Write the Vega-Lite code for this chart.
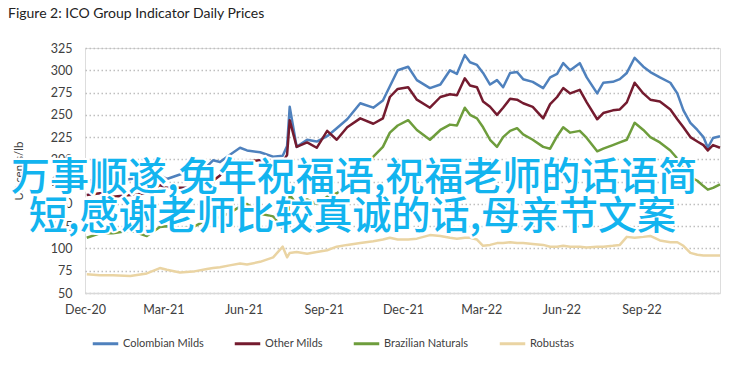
{
  "$schema": "https://vega.github.io/schema/vega-lite/v6.json",
  "width": 635,
  "height": 245,
  "autosize": {"type": "none"},
  "padding": {"left": 85, "top": 48, "right": 35, "bottom": 89},
  "background": "white",
  "title": {"text": "Figure 2: ICO Group Indicator Daily Prices", "anchor": "start", "frame": "group", "dx": -77, "offset": 21, "fontSize": 14, "fontWeight": "normal", "color": "#222222", "font": "Lato"},
  "datasets": {
    "overlay": [
      {"date": "2021-10-06", "price": 179, "label": "万事顺遂,兔年祝福语,祝福老师的话语简"},
      {"date": "2021-10-04", "price": 135, "label": "短,感谢老师比较真诚的话,母亲节文案"}
    ],
    "prices": [
{"date":"2020-12-03","series":"Colombian Milds","price":176},{"date":"2020-12-03","series":"Other Milds","price":160},{"date":"2020-12-03","series":"Brazilian Naturals","price":112},{"date":"2020-12-03","series":"Robustas","price":71},
{"date":"2020-12-18","series":"Colombian Milds","price":178},{"date":"2020-12-18","series":"Other Milds","price":162},{"date":"2020-12-18","series":"Brazilian Naturals","price":117},{"date":"2020-12-18","series":"Robustas","price":70},
{"date":"2021-01-02","series":"Colombian Milds","price":175},{"date":"2021-01-02","series":"Other Milds","price":158},{"date":"2021-01-02","series":"Brazilian Naturals","price":117},{"date":"2021-01-02","series":"Robustas","price":70},
{"date":"2021-01-22","series":"Colombian Milds","price":178},{"date":"2021-01-22","series":"Other Milds","price":160},{"date":"2021-01-22","series":"Brazilian Naturals","price":120},{"date":"2021-01-22","series":"Robustas","price":69},
{"date":"2021-02-10","series":"Colombian Milds","price":180},{"date":"2021-02-10","series":"Other Milds","price":162},{"date":"2021-02-10","series":"Brazilian Naturals","price":114},{"date":"2021-02-10","series":"Robustas","price":72},
{"date":"2021-02-25","series":"Colombian Milds","price":182},{"date":"2021-02-25","series":"Other Milds","price":171},{"date":"2021-02-25","series":"Brazilian Naturals","price":124},{"date":"2021-02-25","series":"Robustas","price":78},
{"date":"2021-03-05","series":"Colombian Milds","price":178},{"date":"2021-03-05","series":"Other Milds","price":168},{"date":"2021-03-05","series":"Brazilian Naturals","price":125},{"date":"2021-03-05","series":"Robustas","price":76},
{"date":"2021-03-20","series":"Colombian Milds","price":183},{"date":"2021-03-20","series":"Other Milds","price":168},{"date":"2021-03-20","series":"Brazilian Naturals","price":122},{"date":"2021-03-20","series":"Robustas","price":73},
{"date":"2021-04-04","series":"Colombian Milds","price":188},{"date":"2021-04-04","series":"Other Milds","price":168},{"date":"2021-04-04","series":"Brazilian Naturals","price":124},{"date":"2021-04-04","series":"Robustas","price":74},
{"date":"2021-04-20","series":"Colombian Milds","price":192},{"date":"2021-04-20","series":"Other Milds","price":177},{"date":"2021-04-20","series":"Brazilian Naturals","price":132},{"date":"2021-04-20","series":"Robustas","price":77},
{"date":"2021-04-27","series":"Colombian Milds","price":199},{"date":"2021-04-27","series":"Other Milds","price":176},{"date":"2021-04-27","series":"Brazilian Naturals","price":134},{"date":"2021-04-27","series":"Robustas","price":78},
{"date":"2021-05-05","series":"Colombian Milds","price":197},{"date":"2021-05-05","series":"Other Milds","price":182},{"date":"2021-05-05","series":"Brazilian Naturals","price":135},{"date":"2021-05-05","series":"Robustas","price":79},
{"date":"2021-05-16","series":"Colombian Milds","price":205},{"date":"2021-05-16","series":"Other Milds","price":195},{"date":"2021-05-16","series":"Brazilian Naturals","price":140},{"date":"2021-05-16","series":"Robustas","price":81},
{"date":"2021-05-28","series":"Colombian Milds","price":213},{"date":"2021-05-28","series":"Other Milds","price":197},{"date":"2021-05-28","series":"Brazilian Naturals","price":147},{"date":"2021-05-28","series":"Robustas","price":83},
{"date":"2021-06-05","series":"Colombian Milds","price":210},{"date":"2021-06-05","series":"Other Milds","price":198},{"date":"2021-06-05","series":"Brazilian Naturals","price":150},{"date":"2021-06-05","series":"Robustas","price":82},
{"date":"2021-06-20","series":"Colombian Milds","price":208},{"date":"2021-06-20","series":"Other Milds","price":199},{"date":"2021-06-20","series":"Brazilian Naturals","price":139},{"date":"2021-06-20","series":"Robustas","price":85},
{"date":"2021-07-05","series":"Colombian Milds","price":203},{"date":"2021-07-05","series":"Other Milds","price":196},{"date":"2021-07-05","series":"Brazilian Naturals","price":136},{"date":"2021-07-05","series":"Robustas","price":90},
{"date":"2021-07-16","series":"Colombian Milds","price":204},{"date":"2021-07-16","series":"Other Milds","price":197},{"date":"2021-07-16","series":"Brazilian Naturals","price":122},{"date":"2021-07-16","series":"Robustas","price":102},
{"date":"2021-07-21","series":"Colombian Milds","price":215},{"date":"2021-07-21","series":"Other Milds","price":205},{"date":"2021-07-21","series":"Brazilian Naturals","price":118},{"date":"2021-07-21","series":"Robustas","price":90},
{"date":"2021-07-24","series":"Colombian Milds","price":259},{"date":"2021-07-24","series":"Other Milds","price":244},{"date":"2021-07-24","series":"Brazilian Naturals","price":160},{"date":"2021-07-24","series":"Robustas","price":95},
{"date":"2021-08-01","series":"Colombian Milds","price":214},{"date":"2021-08-01","series":"Other Milds","price":214},{"date":"2021-08-01","series":"Brazilian Naturals","price":150},{"date":"2021-08-01","series":"Robustas","price":96},
{"date":"2021-08-13","series":"Colombian Milds","price":222},{"date":"2021-08-13","series":"Other Milds","price":219},{"date":"2021-08-13","series":"Brazilian Naturals","price":155},{"date":"2021-08-13","series":"Robustas","price":94},
{"date":"2021-08-24","series":"Colombian Milds","price":220},{"date":"2021-08-24","series":"Other Milds","price":213},{"date":"2021-08-24","series":"Brazilian Naturals","price":150},{"date":"2021-08-24","series":"Robustas","price":96},
{"date":"2021-09-05","series":"Colombian Milds","price":226},{"date":"2021-09-05","series":"Other Milds","price":232},{"date":"2021-09-05","series":"Brazilian Naturals","price":158},{"date":"2021-09-05","series":"Robustas","price":98},
{"date":"2021-09-16","series":"Colombian Milds","price":235},{"date":"2021-09-16","series":"Other Milds","price":222},{"date":"2021-09-16","series":"Brazilian Naturals","price":162},{"date":"2021-09-16","series":"Robustas","price":102},
{"date":"2021-09-28","series":"Colombian Milds","price":245},{"date":"2021-09-28","series":"Other Milds","price":236},{"date":"2021-09-28","series":"Brazilian Naturals","price":170},{"date":"2021-09-28","series":"Robustas","price":104},
{"date":"2021-10-13","series":"Colombian Milds","price":263},{"date":"2021-10-13","series":"Other Milds","price":246},{"date":"2021-10-13","series":"Brazilian Naturals","price":190},{"date":"2021-10-13","series":"Robustas","price":106},
{"date":"2021-10-28","series":"Colombian Milds","price":258},{"date":"2021-10-28","series":"Other Milds","price":240},{"date":"2021-10-28","series":"Brazilian Naturals","price":203},{"date":"2021-10-28","series":"Robustas","price":108},
{"date":"2021-11-08","series":"Colombian Milds","price":266},{"date":"2021-11-08","series":"Other Milds","price":246},{"date":"2021-11-08","series":"Brazilian Naturals","price":214},{"date":"2021-11-08","series":"Robustas","price":110},
{"date":"2021-11-16","series":"Colombian Milds","price":282},{"date":"2021-11-16","series":"Other Milds","price":270},{"date":"2021-11-16","series":"Brazilian Naturals","price":230},{"date":"2021-11-16","series":"Robustas","price":112},
{"date":"2021-11-25","series":"Colombian Milds","price":300},{"date":"2021-11-25","series":"Other Milds","price":279},{"date":"2021-11-25","series":"Brazilian Naturals","price":238},{"date":"2021-11-25","series":"Robustas","price":110},
{"date":"2021-12-07","series":"Colombian Milds","price":304},{"date":"2021-12-07","series":"Other Milds","price":281},{"date":"2021-12-07","series":"Brazilian Naturals","price":244},{"date":"2021-12-07","series":"Robustas","price":110},
{"date":"2021-12-17","series":"Colombian Milds","price":289},{"date":"2021-12-17","series":"Other Milds","price":267},{"date":"2021-12-17","series":"Brazilian Naturals","price":233},{"date":"2021-12-17","series":"Robustas","price":111},
{"date":"2022-01-01","series":"Colombian Milds","price":280},{"date":"2022-01-01","series":"Other Milds","price":258},{"date":"2022-01-01","series":"Brazilian Naturals","price":222},{"date":"2022-01-01","series":"Robustas","price":115},
{"date":"2022-01-13","series":"Colombian Milds","price":284},{"date":"2022-01-13","series":"Other Milds","price":270},{"date":"2022-01-13","series":"Brazilian Naturals","price":233},{"date":"2022-01-13","series":"Robustas","price":114},
{"date":"2022-01-24","series":"Colombian Milds","price":300},{"date":"2022-01-24","series":"Other Milds","price":273},{"date":"2022-01-24","series":"Brazilian Naturals","price":239},{"date":"2022-01-24","series":"Robustas","price":112},
{"date":"2022-02-01","series":"Colombian Milds","price":296},{"date":"2022-02-01","series":"Other Milds","price":272},{"date":"2022-02-01","series":"Brazilian Naturals","price":238},{"date":"2022-02-01","series":"Robustas","price":111},
{"date":"2022-02-10","series":"Colombian Milds","price":317},{"date":"2022-02-10","series":"Other Milds","price":291},{"date":"2022-02-10","series":"Brazilian Naturals","price":258},{"date":"2022-02-10","series":"Robustas","price":112},
{"date":"2022-02-16","series":"Colombian Milds","price":309},{"date":"2022-02-16","series":"Other Milds","price":283},{"date":"2022-02-16","series":"Brazilian Naturals","price":250},{"date":"2022-02-16","series":"Robustas","price":112},
{"date":"2022-02-24","series":"Colombian Milds","price":306},{"date":"2022-02-24","series":"Other Milds","price":281},{"date":"2022-02-24","series":"Brazilian Naturals","price":246},{"date":"2022-02-24","series":"Robustas","price":110},
{"date":"2022-03-03","series":"Colombian Milds","price":297},{"date":"2022-03-03","series":"Other Milds","price":265},{"date":"2022-03-03","series":"Brazilian Naturals","price":236},{"date":"2022-03-03","series":"Robustas","price":103},
{"date":"2022-03-11","series":"Colombian Milds","price":284},{"date":"2022-03-11","series":"Other Milds","price":259},{"date":"2022-03-11","series":"Brazilian Naturals","price":222},{"date":"2022-03-11","series":"Robustas","price":104},
{"date":"2022-03-19","series":"Colombian Milds","price":289},{"date":"2022-03-19","series":"Other Milds","price":250},{"date":"2022-03-19","series":"Brazilian Naturals","price":214},{"date":"2022-03-19","series":"Robustas","price":106},
{"date":"2022-03-26","series":"Colombian Milds","price":281},{"date":"2022-03-26","series":"Other Milds","price":258},{"date":"2022-03-26","series":"Brazilian Naturals","price":225},{"date":"2022-03-26","series":"Robustas","price":106},
{"date":"2022-04-03","series":"Colombian Milds","price":297},{"date":"2022-04-03","series":"Other Milds","price":268},{"date":"2022-04-03","series":"Brazilian Naturals","price":232},{"date":"2022-04-03","series":"Robustas","price":107},
{"date":"2022-04-11","series":"Colombian Milds","price":298},{"date":"2022-04-11","series":"Other Milds","price":267},{"date":"2022-04-11","series":"Brazilian Naturals","price":235},{"date":"2022-04-11","series":"Robustas","price":106},
{"date":"2022-04-18","series":"Colombian Milds","price":290},{"date":"2022-04-18","series":"Other Milds","price":263},{"date":"2022-04-18","series":"Brazilian Naturals","price":228},{"date":"2022-04-18","series":"Robustas","price":106},
{"date":"2022-04-29","series":"Colombian Milds","price":287},{"date":"2022-04-29","series":"Other Milds","price":259},{"date":"2022-04-29","series":"Brazilian Naturals","price":222},{"date":"2022-04-29","series":"Robustas","price":105},
{"date":"2022-05-11","series":"Colombian Milds","price":280},{"date":"2022-05-11","series":"Other Milds","price":246},{"date":"2022-05-11","series":"Brazilian Naturals","price":214},{"date":"2022-05-11","series":"Robustas","price":104},
{"date":"2022-05-19","series":"Colombian Milds","price":292},{"date":"2022-05-19","series":"Other Milds","price":262},{"date":"2022-05-19","series":"Brazilian Naturals","price":212},{"date":"2022-05-19","series":"Robustas","price":102},
{"date":"2022-05-27","series":"Colombian Milds","price":296},{"date":"2022-05-27","series":"Other Milds","price":270},{"date":"2022-05-27","series":"Brazilian Naturals","price":226},{"date":"2022-05-27","series":"Robustas","price":102},
{"date":"2022-06-03","series":"Colombian Milds","price":308},{"date":"2022-06-03","series":"Other Milds","price":280},{"date":"2022-06-03","series":"Brazilian Naturals","price":236},{"date":"2022-06-03","series":"Robustas","price":103},
{"date":"2022-06-11","series":"Colombian Milds","price":300},{"date":"2022-06-11","series":"Other Milds","price":274},{"date":"2022-06-11","series":"Brazilian Naturals","price":230},{"date":"2022-06-11","series":"Robustas","price":102},
{"date":"2022-06-22","series":"Colombian Milds","price":308},{"date":"2022-06-22","series":"Other Milds","price":278},{"date":"2022-06-22","series":"Brazilian Naturals","price":232},{"date":"2022-06-22","series":"Robustas","price":102},
{"date":"2022-06-30","series":"Colombian Milds","price":292},{"date":"2022-06-30","series":"Other Milds","price":264},{"date":"2022-06-30","series":"Brazilian Naturals","price":224},{"date":"2022-06-30","series":"Robustas","price":101},
{"date":"2022-07-12","series":"Colombian Milds","price":274},{"date":"2022-07-12","series":"Other Milds","price":245},{"date":"2022-07-12","series":"Brazilian Naturals","price":209},{"date":"2022-07-12","series":"Robustas","price":102},
{"date":"2022-07-19","series":"Colombian Milds","price":286},{"date":"2022-07-19","series":"Other Milds","price":252},{"date":"2022-07-19","series":"Brazilian Naturals","price":212},{"date":"2022-07-19","series":"Robustas","price":102},
{"date":"2022-07-30","series":"Colombian Milds","price":287},{"date":"2022-07-30","series":"Other Milds","price":255},{"date":"2022-07-30","series":"Brazilian Naturals","price":216},{"date":"2022-07-30","series":"Robustas","price":103},
{"date":"2022-08-07","series":"Colombian Milds","price":290},{"date":"2022-08-07","series":"Other Milds","price":256},{"date":"2022-08-07","series":"Brazilian Naturals","price":219},{"date":"2022-08-07","series":"Robustas","price":104},
{"date":"2022-08-15","series":"Colombian Milds","price":297},{"date":"2022-08-15","series":"Other Milds","price":264},{"date":"2022-08-15","series":"Brazilian Naturals","price":222},{"date":"2022-08-15","series":"Robustas","price":113},
{"date":"2022-08-24","series":"Colombian Milds","price":314},{"date":"2022-08-24","series":"Other Milds","price":286},{"date":"2022-08-24","series":"Brazilian Naturals","price":241},{"date":"2022-08-24","series":"Robustas","price":112},
{"date":"2022-09-03","series":"Colombian Milds","price":304},{"date":"2022-09-03","series":"Other Milds","price":274},{"date":"2022-09-03","series":"Brazilian Naturals","price":233},{"date":"2022-09-03","series":"Robustas","price":113},
{"date":"2022-09-11","series":"Colombian Milds","price":298},{"date":"2022-09-11","series":"Other Milds","price":267},{"date":"2022-09-11","series":"Brazilian Naturals","price":225},{"date":"2022-09-11","series":"Robustas","price":114},
{"date":"2022-09-22","series":"Colombian Milds","price":292},{"date":"2022-09-22","series":"Other Milds","price":265},{"date":"2022-09-22","series":"Brazilian Naturals","price":219},{"date":"2022-09-22","series":"Robustas","price":109},
{"date":"2022-10-04","series":"Colombian Milds","price":286},{"date":"2022-10-04","series":"Other Milds","price":256},{"date":"2022-10-04","series":"Brazilian Naturals","price":210},{"date":"2022-10-04","series":"Robustas","price":107},
{"date":"2022-10-12","series":"Colombian Milds","price":274},{"date":"2022-10-12","series":"Other Milds","price":245},{"date":"2022-10-12","series":"Brazilian Naturals","price":201},{"date":"2022-10-12","series":"Robustas","price":107},
{"date":"2022-10-19","series":"Colombian Milds","price":255},{"date":"2022-10-19","series":"Other Milds","price":236},{"date":"2022-10-19","series":"Brazilian Naturals","price":190},{"date":"2022-10-19","series":"Robustas","price":103},
{"date":"2022-10-27","series":"Colombian Milds","price":241},{"date":"2022-10-27","series":"Other Milds","price":225},{"date":"2022-10-27","series":"Brazilian Naturals","price":180},{"date":"2022-10-27","series":"Robustas","price":95},
{"date":"2022-11-04","series":"Colombian Milds","price":233},{"date":"2022-11-04","series":"Other Milds","price":220},{"date":"2022-11-04","series":"Brazilian Naturals","price":176},{"date":"2022-11-04","series":"Robustas","price":93},
{"date":"2022-11-11","series":"Colombian Milds","price":225},{"date":"2022-11-11","series":"Other Milds","price":216},{"date":"2022-11-11","series":"Brazilian Naturals","price":170},{"date":"2022-11-11","series":"Robustas","price":92},
{"date":"2022-11-16","series":"Colombian Milds","price":213},{"date":"2022-11-16","series":"Other Milds","price":210},{"date":"2022-11-16","series":"Brazilian Naturals","price":166},{"date":"2022-11-16","series":"Robustas","price":92},
{"date":"2022-11-22","series":"Colombian Milds","price":224},{"date":"2022-11-22","series":"Other Milds","price":216},{"date":"2022-11-22","series":"Brazilian Naturals","price":168},{"date":"2022-11-22","series":"Robustas","price":92},
{"date":"2022-11-30","series":"Colombian Milds","price":226},{"date":"2022-11-30","series":"Other Milds","price":213},{"date":"2022-11-30","series":"Brazilian Naturals","price":172},{"date":"2022-11-30","series":"Robustas","price":92}
    ]
  },
  "encoding": {
    "x": {
      "field": "date", "type": "temporal",
      "scale": {"type": "utc", "domain": [{"year": 2020, "month": 12, "date": 1, "utc": true}, {"year": 2022, "month": 11, "date": 30, "utc": true}]},
      "axis": {
        "title": null, "format": "%b-%y", "grid": false, "ticks": false, "labelFlush": false,
        "values": [
          {"year": 2020, "month": 12, "date": 1, "utc": true},
          {"year": 2021, "month": 3, "date": 1, "utc": true},
          {"year": 2021, "month": 6, "date": 1, "utc": true},
          {"year": 2021, "month": 9, "date": 1, "utc": true},
          {"year": 2021, "month": 12, "date": 1, "utc": true},
          {"year": 2022, "month": 3, "date": 1, "utc": true},
          {"year": 2022, "month": 6, "date": 1, "utc": true},
          {"year": 2022, "month": 9, "date": 1, "utc": true}
        ],
        "domainColor": "#D9D9D9", "domainWidth": 1.5, "labelPadding": 10, "labelFontSize": 12.5, "labelColor": "#404040", "labelFont": "Lato"
      }
    },
    "y": {
      "field": "price", "type": "quantitative",
      "scale": {"domain": [50, 325], "nice": false, "zero": false},
      "axis": {
        "title": "US cents/lb", "values": [50, 75, 100, 125, 150, 175, 200, 225, 250, 275, 300, 325],
        "domain": false, "ticks": false, "labelPadding": 13, "labelFontSize": 12.5, "labelColor": "#404040", "labelFont": "Lato",
        "labelOverlap": false, "labelBound": false,
        "gridColor": "#BFBFBF", "gridDash": [1.5, 2.5], "gridWidth": 1.5,
        "titleFont": "Lato", "titleFontSize": 11.5, "titleFontWeight": "normal", "titleColor": "#404040", "titlePadding": 26
      }
    }
  },
  "layer": [
    {
      "data": {"name": "prices"},
      "mark": {"type": "line", "strokeWidth": 2.5, "strokeJoin": "round"},
      "encoding": {
        "color": {
          "field": "series", "type": "nominal",
          "scale": {"domain": ["Colombian Milds", "Other Milds", "Brazilian Naturals", "Robustas"], "range": ["#4F81BD", "#741B2F", "#6E9D3C", "#EAD4A3"]},
          "legend": {
            "title": null, "orient": "none", "direction": "horizontal", "legendX": 6, "legendY": 281,
            "symbolType": "stroke", "symbolSize": 650, "symbolStrokeWidth": 3, "labelOffset": 3, "columnPadding": 24,
            "labelFontSize": 11, "labelColor": "#404040", "labelFont": "Lato"
          }
        }
      }
    },
    {
      "data": {"name": "overlay"},
      "mark": {"type": "text", "font": "Noto Sans CJK SC", "fontSize": 39, "align": "center", "baseline": "middle", "fill": "white", "stroke": "white", "strokeWidth": 5, "strokeJoin": "round"},
      "encoding": {"text": {"field": "label"}}
    },
    {
      "data": {"name": "overlay"},
      "mark": {"type": "text", "font": "Noto Sans CJK SC", "fontSize": 39, "fontWeight": 500, "align": "center", "baseline": "middle", "fill": "#12B4EF"},
      "encoding": {"text": {"field": "label"}}
    }
  ]
}
